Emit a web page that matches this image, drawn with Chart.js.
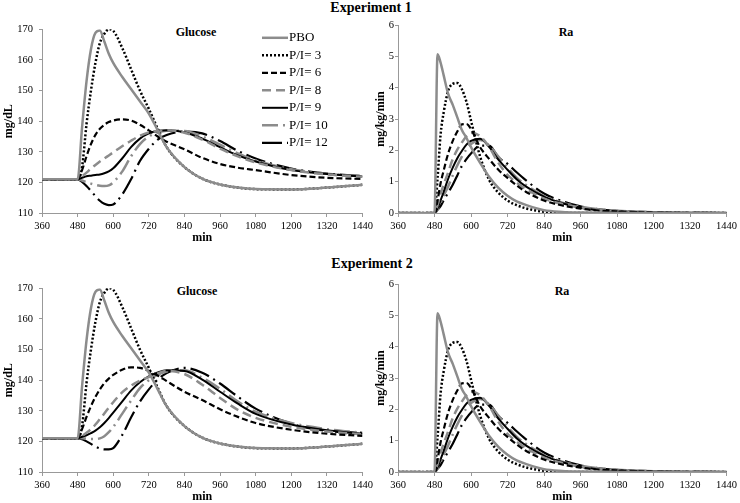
<!DOCTYPE html>
<html>
<head>
<meta charset="utf-8">
<script src="https://cdn.jsdelivr.net/npm/chart.js@4.4.1/dist/chart.umd.min.js"></script>
<style>
  body { margin: 0; width: 740px; height: 503px; overflow: hidden; background: #fff; position: relative;
         font-family: "Liberation Serif", "Times New Roman", serif; }
  canvas { position: absolute; }
  .lbl { position: absolute; transform: translate(-50%, -50%); font-weight: bold; white-space: nowrap; color: #000; }
  .big { font-size: 14px; }
  .small { font-size: 12px; }
</style>
</head>
<body>
<div class="lbl big" style="left:371px;top:8px">Experiment 1</div>
<div class="lbl big" style="left:372px;top:264px">Experiment 2</div>
<div class="lbl small" style="left:196px;top:32px">Glucose</div>
<div class="lbl small" style="left:566px;top:32px">Ra</div>
<div class="lbl small" style="left:197px;top:291px">Glucose</div>
<div class="lbl small" style="left:562px;top:291px">Ra</div>

<canvas id="glu1" width="376" height="228" style="left:0px;top:17px"></canvas>
<canvas id="ra1" width="368" height="228" style="left:372px;top:17px"></canvas>
<canvas id="glu2" width="376" height="228" style="left:0px;top:276px"></canvas>
<canvas id="ra2" width="368" height="228" style="left:372px;top:276px"></canvas>

<script>
// Series names
const seriesNames = ["PBO", "P/I= 3", "P/I= 6", "P/I= 8", "P/I= 9", "P/I= 10", "P/I= 12"];

// Time points (min) for glucose panels
const gluTimes = [360, 480, 495, 510, 525, 540, 555, 570, 585, 600, 630, 660, 690, 720, 750, 780, 840, 900, 960, 1020, 1080, 1200, 1320, 1440];

// Glucose, same in both experiments
const gluPBO = [121, 121, 138, 153, 163.5, 168.8, 169.6, 166, 162, 159, 154.5, 150.5, 146.5, 142.5, 137, 131.5, 125, 121.2, 119.3, 118.3, 117.8, 117.7, 118.3, 119.2];
const glu3   = [121, 121, 125, 139, 150, 159, 165.5, 168.5, 170, 169.5, 164, 157, 150, 144, 137.5, 131.5, 125, 121.2, 119.3, 118.3, 117.8, 117.7, 118.3, 119.2];

// Glucose, experiment 1
const glu1_6  = [121, 121, 124, 128.5, 132.5, 135.5, 137.5, 138.8, 139.7, 140.2, 140.6, 140.2, 138.8, 137, 135, 133.3, 130.8, 128, 126, 124.8, 124, 122.4, 121.5, 121.1];
const glu1_8  = [121, 121, 122, 123.2, 124.5, 125.7, 126.8, 127.8, 128.8, 129.8, 131.8, 133.6, 135.2, 136.3, 136.8, 137, 136.2, 134, 131, 128.5, 126.5, 124, 122.6, 121.8];
const glu1_9  = [121, 121, 121.5, 122, 122.2, 122.4, 122.6, 123, 123.6, 124.6, 127.8, 131.5, 134.3, 136, 136.8, 137, 136.4, 134.3, 131.5, 128.8, 126.8, 124, 122.7, 121.9];
const glu1_10 = [121, 121, 120.6, 120.1, 119.6, 119.2, 118.9, 118.8, 119, 120, 123.5, 128.5, 132.5, 135, 136.3, 136.9, 136.8, 135, 132.3, 129.5, 127.2, 124.3, 122.8, 122];
const glu1_12 = [121, 121, 120.2, 118.8, 117.2, 115.5, 114, 113, 112.6, 112.8, 116, 121, 127, 131, 134, 135.5, 136.6, 136, 133.5, 130.3, 127.8, 124.5, 122.9, 122.1];

// Glucose, experiment 2
const glu2_6  = [121, 121, 124, 128, 131.5, 134.5, 137, 139, 140.5, 141.7, 143.4, 144.2, 144, 143, 141.5, 139.7, 136.2, 133.5, 130.5, 128, 126, 123.8, 122.5, 121.8];
const glu2_8  = [121, 121, 121.8, 122.8, 124, 125.5, 127.3, 129.1, 131, 132.8, 136, 138.2, 139.8, 141, 142.2, 143, 142, 138.5, 134.2, 130.3, 127.7, 124.8, 123.2, 122.3];
const glu2_9  = [121, 121, 121.5, 122, 122.7, 123.5, 124.6, 126, 127.6, 129.4, 133, 136.6, 139.3, 141.2, 142.5, 143.2, 143, 140.2, 136.2, 132.3, 129, 125.5, 123.6, 122.5];
const glu2_10 = [121, 121, 121, 120.9, 120.8, 120.8, 121, 121.7, 123, 124.7, 129, 133.3, 137.4, 140, 141.8, 142.8, 143.2, 140.8, 137.2, 133, 129.7, 126, 124, 122.8];
const glu2_12 = [121, 121, 120.7, 120, 119.2, 118.3, 117.7, 117.4, 117.4, 117.8, 122, 127.8, 133, 137, 140.2, 142.3, 144, 142.4, 138.9, 134.6, 130.7, 125.8, 123.4, 122.8];

// Time points (min) for Ra panels
const raTimes = [360, 480, 490, 500, 510, 525, 540, 555, 570, 585, 600, 630, 660, 690, 720, 750, 780, 840, 900, 960, 1020, 1080, 1200, 1440];

// Ra (mg/kg/min), same curves in both experiments
const raPBO = [0, 0, 5.07, 4.8, 4.4, 3.8, 3.45, 3.05, 2.65, 2.4, 2.1, 1.6, 1.15, 0.8, 0.55, 0.37, 0.26, 0.09, 0.035, 0.015, 0.005, 0, 0, 0];
const ra3   = [0, 0, 1.1, 2.5, 3.2, 3.9, 4.12, 4.15, 3.95, 3.55, 2.95, 1.8, 1.05, 0.65, 0.4, 0.25, 0.15, 0.04, 0.01, 0, 0, 0, 0, 0];
const ra6   = [0, 0, 0.4, 0.95, 1.35, 1.9, 2.3, 2.6, 2.83, 2.84, 2.68, 2.1, 1.72, 1.38, 1.12, 0.88, 0.68, 0.4, 0.24, 0.14, 0.08, 0.05, 0.015, 0];
const ra8   = [0, 0, 0.25, 0.6, 0.9, 1.3, 1.72, 2.02, 2.25, 2.45, 2.56, 2.45, 2.1, 1.6, 1.22, 0.97, 0.77, 0.46, 0.29, 0.18, 0.11, 0.07, 0.025, 0];
const ra9   = [0, 0, 0.15, 0.4, 0.67, 1.1, 1.45, 1.75, 1.98, 2.18, 2.3, 2.37, 2.1, 1.7, 1.38, 1.08, 0.85, 0.52, 0.31, 0.17, 0.09, 0.05, 0.015, 0];
const ra10  = [0, 0, 0.12, 0.32, 0.55, 0.85, 1.2, 1.52, 1.8, 2.03, 2.2, 2.33, 2.15, 1.8, 1.45, 1.13, 0.9, 0.54, 0.33, 0.2, 0.12, 0.075, 0.025, 0];
const ra12  = [0, 0, 0.1, 0.22, 0.4, 0.65, 0.9, 1.2, 1.5, 1.72, 1.9, 2.15, 2.15, 1.78, 1.57, 1.3, 1.05, 0.62, 0.38, 0.21, 0.12, 0.07, 0.02, 0];

// Line styles
const GREY = "#8c8c8c";
const styles = [
    { color: GREY, dash: [], width: 2.5 },
    { color: "#000", dash: [2, 2], width: 2.5 },
    { color: "#000", dash: [6, 3], width: 2.2 },
    { color: GREY, dash: [9, 5], width: 2.5 },
    { color: "#000", dash: [], width: 2 },
    { color: GREY, dash: [16, 5, 2, 5], width: 2.5 },
    { color: "#000", dash: [20, 5, 2, 5], width: 2.2 }
];

const FONT = '"Liberation Serif", "Times New Roman", serif';

// Legend drawn inside the first glucose panel
const insideLegend = {
    id: "insideLegend",
    afterDraw(chart) {
        const ctx = chart.ctx;
        const a = chart.chartArea;
        chart.data.datasets.forEach((ds, i) => {
            const x = a.left + 220;
            const y = a.top + 8.5 + i * 17.5;
            ctx.save();
            ctx.strokeStyle = ds.borderColor;
            ctx.lineWidth = ds.borderWidth;
            ctx.setLineDash(ds.borderDash);
            ctx.beginPath();
            ctx.moveTo(x, y);
            ctx.lineTo(x + 26, y);
            ctx.stroke();
            ctx.setLineDash([]);
            ctx.fillStyle = "#000";
            ctx.font = "13px " + FONT;
            ctx.textBaseline = "middle";
            ctx.fillText(ds.label, x + 27, y);
            ctx.restore();
        });
    }
};

function makeChart(id, times, series, yMin, yMax, yStep, yTitle, yWidth, yPad, padRight, legend) {
    const datasets = series.map((vals, i) => ({
        label: seriesNames[i],
        data: times.map((t, j) => ({ x: t, y: vals[j] })),
        borderColor: styles[i].color,
        borderWidth: styles[i].width,
        borderDash: styles[i].dash,
        pointRadius: 0,
        fill: false,
        cubicInterpolationMode: "monotone"
    }));

    new Chart(document.getElementById(id), {
        type: "line",
        data: { datasets: datasets },
        plugins: legend ? [insideLegend] : [],
        options: {
            responsive: false,
            animation: false,
            layout: { padding: { top: 8, right: padRight, left: 0, bottom: 0 } },
            plugins: { legend: { display: false }, tooltip: { enabled: false } },
            scales: {
                x: {
                    type: "linear",
                    min: 360,
                    max: 1440,
                    ticks: { stepSize: 120, color: "#000", padding: 3, maxRotation: 0, autoSkip: false,
                             font: { family: FONT, size: 10.5 },
                             callback: (v) => String(v) },
                    grid: { drawOnChartArea: false, tickLength: 4, color: "#999" },
                    border: { color: "#999" },
                    title: { display: true, text: "min", color: "#000", padding: 0,
                             font: { family: FONT, size: 12, weight: "bold" } },
                    afterFit(scale) { scale.height = 32; }
                },
                y: {
                    min: yMin,
                    max: yMax,
                    ticks: { stepSize: yStep, color: "#000", padding: yPad,
                             font: { family: FONT, size: 10.5 },
                             callback: (v) => String(v) },
                    grid: { drawOnChartArea: false, tickLength: 3, color: "#999" },
                    border: { color: "#999" },
                    title: { display: true, text: yTitle, color: "#000", padding: { top: 2, bottom: 0 },
                             font: { family: FONT, size: 12, weight: "bold" } },
                    afterFit(scale) { scale.width = yWidth; }
                }
            }
        }
    });
}

makeChart("glu1", gluTimes, [gluPBO, glu3, glu1_6, glu1_8, glu1_9, glu1_10, glu1_12], 110, 170, 10, "mg/dL", 42, 6, 13, true);
makeChart("ra1", raTimes, [raPBO, ra3, ra6, ra8, ra9, ra10, ra12], 0, 6, 1, "mg/kg/min", 26, 1, 10, false);
makeChart("glu2", gluTimes, [gluPBO, glu3, glu2_6, glu2_8, glu2_9, glu2_10, glu2_12], 110, 170, 10, "mg/dL", 42, 6, 13, false);
makeChart("ra2", raTimes, [raPBO, ra3, ra6, ra8, ra9, ra10, ra12], 0, 6, 1, "mg/kg/min", 26, 1, 10, false);
</script>
</body>
</html>
